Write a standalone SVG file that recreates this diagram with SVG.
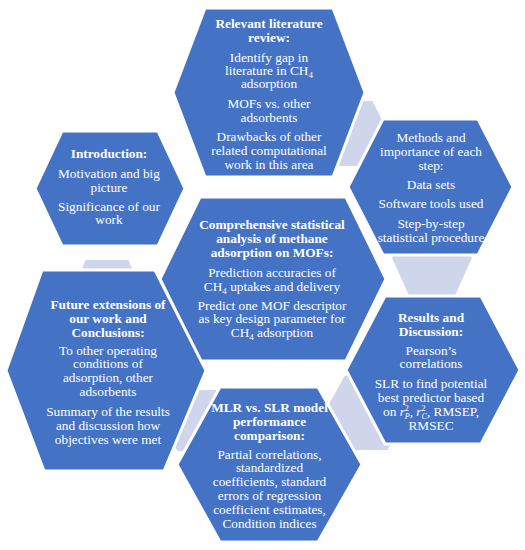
<svg xmlns="http://www.w3.org/2000/svg" width="525" height="550" viewBox="0 0 525 550">
<defs>
<style>
.hex{fill:#4472C4;stroke:#ffffff;stroke-width:3;stroke-linejoin:miter}
.con{fill:#CFD5EA;stroke:#ffffff;stroke-width:2}
text{font-family:"Liberation Serif","Times New Roman",serif;font-size:13.3px;fill:#ffffff;text-anchor:middle}
.b{font-weight:bold}
.sub{font-size:9px}
.s{font-size:8px}
</style>
</defs>
<rect width="525" height="550" fill="#ffffff"/>
<g id="connectors">
<polygon class="con" points="322,133.5 339,100 373,100 390,133.5 373,167 339,167"/>
<polygon class="con" points="391,258 409,218 455,218 473,258 455,298 409,298"/>
<polygon class="con" points="323,413 344,375 388,375 409,413 388,451 344,451"/>
<polygon class="con" points="159,420.5 177,389 217,389 235,420.5 217,452 177,452"/>
<polygon class="con" points="72,289 85,259 129,259 142,289 129,319 85,319"/>
</g>
<g id="literature">
<polygon class="hex" points="173,92.5 205,8 333,8 365,92.5 333,177 205,177"/>
<text class="b" x="269" y="27.8">Relevant literature</text>
<text class="b" x="269" y="41.5">review:</text>
<text x="269" y="61.5">Identify gap in</text>
<text x="269" y="74.5">literature in CH<tspan class="sub" dy="3">4</tspan></text>
<text x="269" y="87.5">adsorption</text>
<text x="269" y="107.5">MOFs vs. other</text>
<text x="269" y="121.5">adsorbents</text>
<text x="269" y="140.5">Drawbacks of other</text>
<text x="269" y="154.5">related computational</text>
<text x="269" y="168.5">work in this area</text>
</g>
<g id="methods">
<polygon class="hex" points="348,187 383,119 478,119 513,187 478,255 383,255"/>
<text x="431" y="141.5">Methods and</text>
<text x="431" y="155.5">importance of each</text>
<text x="431" y="169.5">step:</text>
<text x="431" y="188.5">Data sets</text>
<text x="431" y="207.5">Software tools used</text>
<text x="431" y="227.5">Step-by-step</text>
<text x="431" y="241.5">statistical procedure</text>
</g>
<g id="introduction">
<polygon class="hex" points="35,188.5 62,131 158,131 185,188.5 158,246 62,246"/>
<text class="b" x="109" y="157.5">Introduction:</text>
<text x="109" y="177.5">Motivation and big</text>
<text x="109" y="191.5">picture</text>
<text x="109" y="210.5">Significance of our</text>
<text x="109" y="224">work</text>
</g>
<g id="central">
<polygon class="hex" points="160,279 200,197 346,197 386,279 346,361 200,361"/>
<text class="b" x="272" y="229">Comprehensive statistical</text>
<text class="b" x="272" y="243">analysis of methane</text>
<text class="b" x="272" y="257">adsorption on MOFs:</text>
<text x="272" y="276.5">Prediction accuracies of</text>
<text x="272" y="290.5">CH<tspan class="sub" dy="3">4</tspan><tspan dy="-3"> uptakes and delivery</tspan></text>
<text x="272" y="309.5">Predict one MOF descriptor</text>
<text x="272" y="323">as key design parameter for</text>
<text x="272" y="337">CH<tspan class="sub" dy="3">4</tspan><tspan dy="-3"> adsorption</tspan></text>
</g>
<g id="results">
<polygon class="hex" points="346,370 385,296 481,296 520,370 481,444 385,444"/>
<text class="b" x="431" y="321.5">Results and</text>
<text class="b" x="431" y="335.5">Discussion:</text>
<text x="431" y="354.5">Pearson’s</text>
<text x="431" y="368">correlations</text>
<text x="431" y="387.5">SLR to find potential</text>
<text x="431" y="401.5">best predictor based</text>
<text x="431" y="415.5">on <tspan font-style="italic">r</tspan><tspan class="s" dy="-4.5">2</tspan><tspan class="s" font-style="italic" dx="-4" dy="7.5">P</tspan><tspan dy="-3">, </tspan><tspan font-style="italic">r</tspan><tspan class="s" dy="-4.5">2</tspan><tspan class="s" font-style="italic" dx="-4" dy="7.5">C</tspan><tspan dy="-3">, RMSEP,</tspan></text>
<text x="431" y="430">RMSEC</text>
</g>
<g id="mlr-slr">
<polygon class="hex" points="177,464.5 220,387 318,387 362,464.5 318,542 220,542"/>
<text class="b" x="269.5" y="411.5">MLR vs. SLR model</text>
<text class="b" x="269.5" y="425.5">performance</text>
<text class="b" x="269.5" y="439.5">comparison:</text>
<text x="269.5" y="458.5">Partial correlations,</text>
<text x="269.5" y="472">standardized</text>
<text x="269.5" y="486">coefficients, standard</text>
<text x="269.5" y="499.5">errors of regression</text>
<text x="269.5" y="513.5">coefficient estimates,</text>
<text x="269.5" y="527.5">Condition indices</text>
</g>
<g id="future">
<polygon class="hex" points="6,370.5 42,270 155,270 206,370.5 164,471 44,471"/>
<text class="b" x="108" y="308.5">Future extensions of</text>
<text class="b" x="108" y="322.5">our work and</text>
<text class="b" x="108" y="336.5">Conclusions:</text>
<text x="108" y="354.5">To other operating</text>
<text x="108" y="368">conditions of</text>
<text x="108" y="381.5">adsorption, other</text>
<text x="108" y="395.5">adsorbents</text>
<text x="108" y="416">Summary of the results</text>
<text x="108" y="429.5">and discussion how</text>
<text x="108" y="443.5">objectives were met</text>
</g>
</svg>
